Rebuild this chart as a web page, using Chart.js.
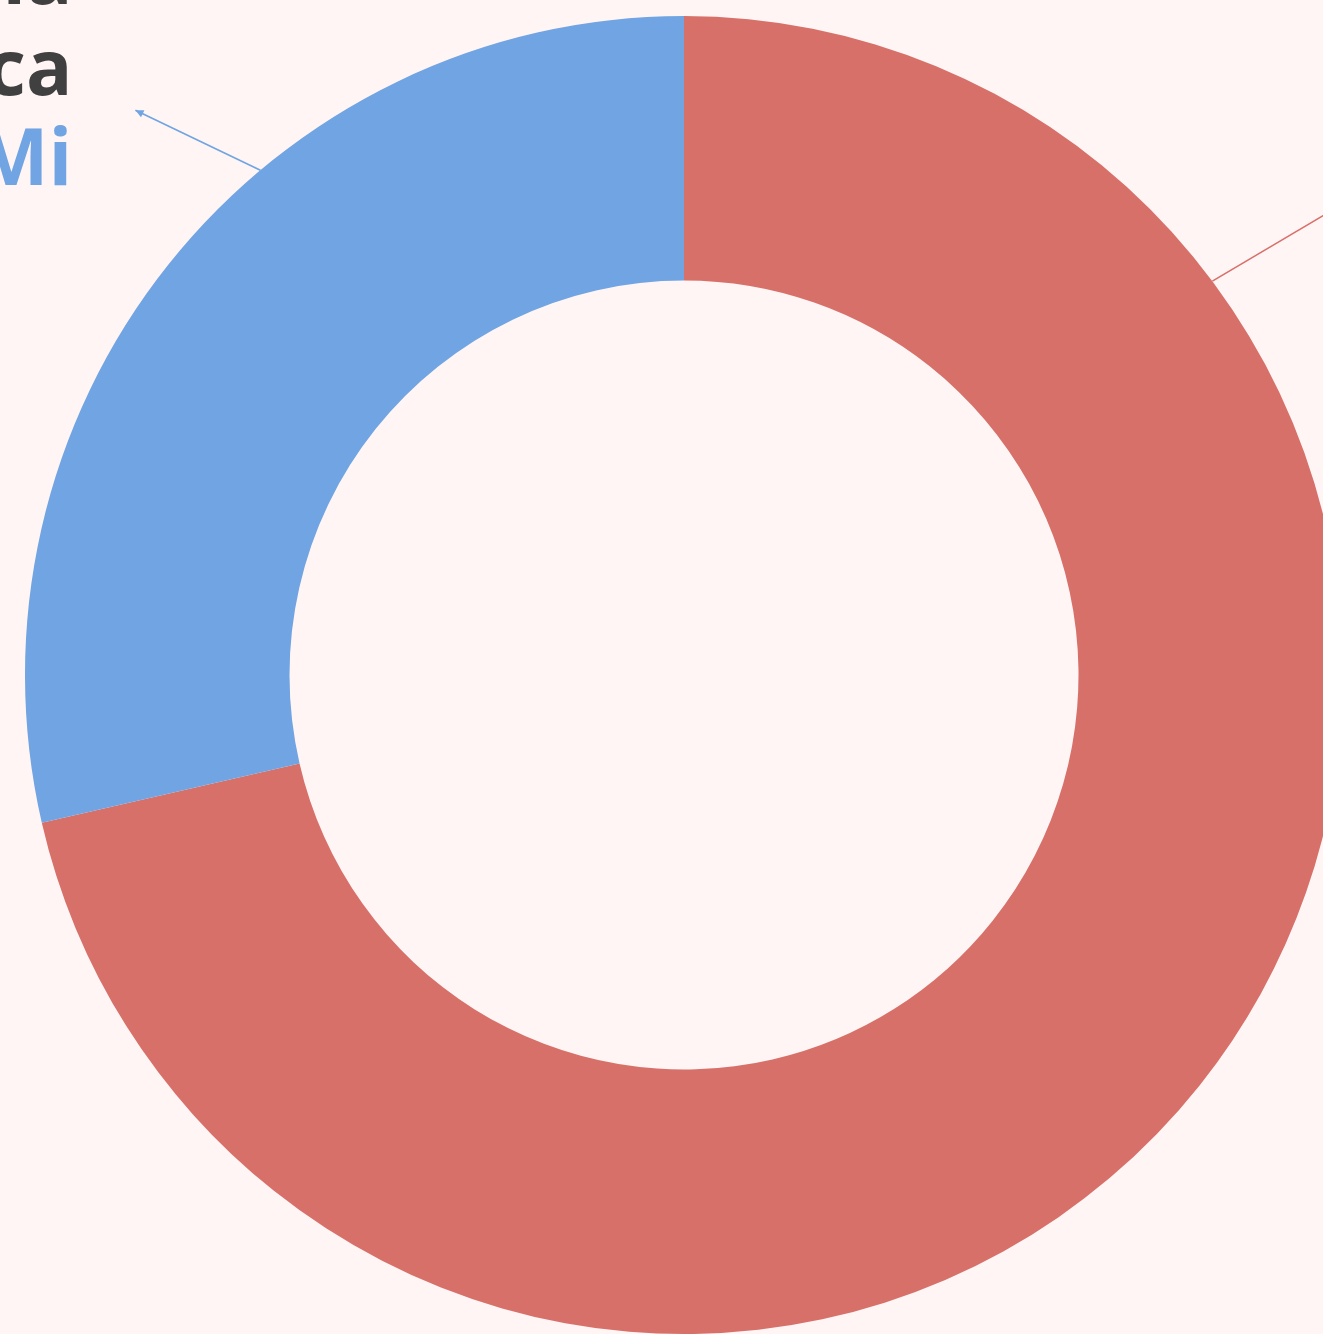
<!DOCTYPE html>
<html>
<head>
<meta charset="utf-8">
<script src="https://cdn.jsdelivr.net/npm/chart.js@4/dist/chart.umd.min.js"></script>
<style>
  html, body { margin: 0; padding: 0; width: 1323px; height: 1334px; overflow: hidden; background: #FFF5F5; }
  #wrap { position: absolute; left: -16px; top: -25px; width: 1400px; height: 1400px; }
</style>
</head>
<body>
<div id="wrap"><canvas id="c" width="1400" height="1400"></canvas></div>
<script>
// Share of the two regions
const categories = ['Europa', 'América'];
const shares = [71.4, 28.6];
const colors = ['#D8706A', '#70A4E2'];

// Callout text for each slice: heading lines (dark) and a value line (slice colour)
const calloutTitles = [['Europa'], ['Oceanía', 'América']];
const calloutValues = ['71,4 Mi', '28,6 Mi'];

// Where each callout leaves the ring (degrees, canvas orientation) and its leader direction
const calloutAngles = [-36.7, -130];
const leaderVectors = [[230, -136], [-125, -60]];

const calloutPlugin = {
  id: 'callouts',
  afterDatasetsDraw(chart) {
    const ctx = chart.ctx;
    const meta = chart.getDatasetMeta(0);
    meta.data.forEach((arc, i) => {
      const a = calloutAngles[i] * Math.PI / 180;
      const r = arc.outerRadius;
      const x0 = arc.x + r * Math.cos(a);
      const y0 = arc.y + r * Math.sin(a);
      const [vx, vy] = leaderVectors[i];
      const x1 = x0 + vx, y1 = y0 + vy;
      ctx.save();
      ctx.strokeStyle = colors[i];
      ctx.fillStyle = colors[i];
      ctx.lineWidth = 1.6;
      ctx.beginPath();
      ctx.moveTo(x0, y0);
      ctx.lineTo(x1, y1);
      ctx.stroke();
      // small arrow head at the label end
      const ang = Math.atan2(vy, vx);
      const h = 9;
      ctx.beginPath();
      ctx.moveTo(x1, y1);
      ctx.lineTo(x1 - h * Math.cos(ang - 0.45), y1 - h * Math.sin(ang - 0.45));
      ctx.lineTo(x1 - h * Math.cos(ang + 0.45), y1 - h * Math.sin(ang + 0.45));
      ctx.closePath();
      ctx.fill();

      // label block, aligned away from the ring
      const leftSide = vx < 0;
      const tx = leftSide ? x1 - 63 : x1 + 63;
      ctx.textAlign = leftSide ? 'right' : 'left';
      ctx.textBaseline = 'alphabetic';
      const lh = 90.5;
      const lines = calloutTitles[i];
      const baseY = y1 + 75;
      ctx.fillStyle = '#404040';
      ctx.font = 'bold 77px "Open Sans"';
      lines.forEach((t, k) => {
        ctx.fillText(t, tx, baseY - (lines.length - k) * lh);
      });
      ctx.fillStyle = colors[i];
      ctx.font = 'bold 78px "Open Sans"';
      ctx.fillText(calloutValues[i], tx, baseY);
      ctx.restore();
    });
  }
};

new Chart(document.getElementById('c'), {
  type: 'doughnut',
  data: {
    labels: categories,
    datasets: [{
      data: shares,
      backgroundColor: colors,
      borderWidth: 0,
      radius: 659,
      cutout: 394.5
    }]
  },
  options: {
    responsive: false,
    animation: false,
    layout: { padding: 41 },
    plugins: {
      legend: { display: false },
      tooltip: { enabled: false }
    }
  },
  plugins: [calloutPlugin]
});
</script>
</body>
</html>
